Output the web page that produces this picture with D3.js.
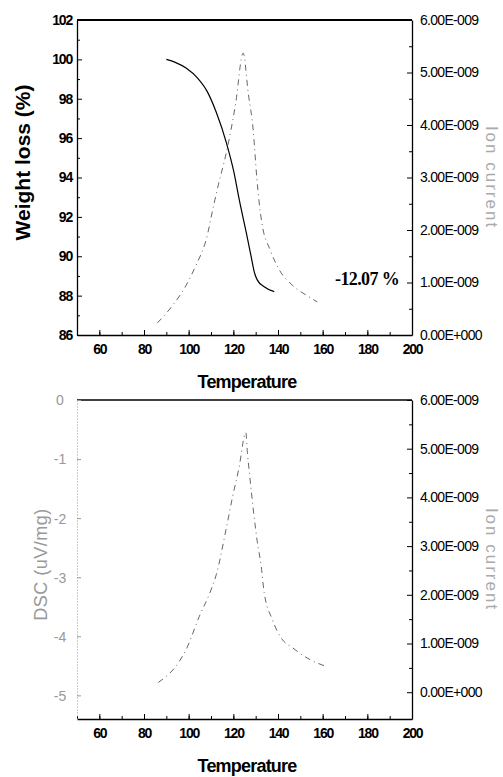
<!DOCTYPE html>
<html lang="en">
<head>
<meta charset="UTF-8">
<title>TG / DSC with ion current</title>
<style>
  body { margin: 0; background: #fff; }
  .tick text { font-family: "Liberation Sans", Arial, sans-serif; }
  .xAxis .tick text, .leftAxis .tick text { font-size: 14px; font-weight: bold; letter-spacing: -1.2px; fill: #000; }
  .rightAxis .tick text { font-size: 14px; letter-spacing: -0.7px; fill: #000; }
  .dscAxis .tick text { font-size: 14px; fill: #999; }
</style>
</head>
<body>
<div id="chart"></div>
<script src="https://d3js.org/d3.v7.min.js"></script>
<script>
// x ticks shared by both panels
const tempTicks = [60, 80, 100, 120, 140, 160, 180, 200];

// top panel: weight loss (TG)
const tgTemp   = [90, 94, 99, 104, 108.4, 112.4, 116.8, 120.4, 122.6, 125.8, 128, 129.5, 130.7, 133.8, 138.3];
const tgWeight = [100, 99.85, 99.55, 99.05, 98.35, 97.3, 95.8, 94.2, 92.9, 91.2, 89.97, 89.15, 88.8, 88.45, 88.2];
const weightTicks = [86, 88, 90, 92, 94, 96, 98, 100, 102];

// top panel: ion current
const ionTopTemp = [86, 92.2, 98.9, 103.3, 107.8, 111.4, 113.3, 117, 121, 124.4, 126.7, 128.9, 130.5, 131.5, 132.8, 136.5, 140.6, 146.4, 152.6, 157.6];
const ionTopVal  = [0.23, 0.53, 0.95, 1.33, 1.81, 2.51, 2.86, 3.5, 4.4, 5.37, 4.6, 3.9, 3.0, 2.55, 2.13, 1.62, 1.24, 0.95, 0.76, 0.63];

// bottom panel: ion current
const ionBotTemp = [86.4, 95.9, 98.9, 104.8, 110, 112.4, 116.9, 119.6, 122.5, 125.6, 126.3, 127.2, 130.7, 132.5, 133.8, 137.4, 141.8, 146.3, 153.9, 161.5];
const ionBotVal  = [0.2, 0.64, 0.88, 1.56, 2.1, 2.42, 3.38, 4.0, 4.6, 5.33, 4.92, 4.5, 3.1, 2.58, 2.05, 1.5, 1.09, 0.92, 0.68, 0.53];

// bottom panel: DSC axis ticks
const dscTicks = [0, -1, -2, -3, -4, -5];

// ion current ticks (units of 1E-009)
const ionTicks = [0, 1, 2, 3, 4, 5, 6];

const width = 503, height = 777;
const svg = d3.select('#chart').append('svg')
  .attr('width', width).attr('height', height);

const left = 77, right = 412;

const ionFormat = d => d === 0 ? '0.00E+000' : d.toFixed(2) + 'E-009';

const drawPanel = (cfg) => {
  const g = svg.append('g');
  const x = d3.scaleLinear().domain([50, 200]).range([left, right]);
  const yL = d3.scaleLinear().domain(cfg.leftDomain).range([cfg.bottom, cfg.top]);
  const yR = d3.scaleLinear().domain(cfg.rightDomain).range([cfg.bottom, cfg.top]);

  // top border
  g.append('line')
    .attr('x1', left).attr('x2', right)
    .attr('y1', cfg.top).attr('y2', cfg.top)
    .attr('stroke', '#000').attr('stroke-width', cfg.topWidth);

  // x axis, inward ticks
  const xMinor = d3.axisBottom(x).tickValues(d3.range(50, 201, 10)).tickSize(-3).tickFormat('');
  g.append('g').attr('transform', `translate(0,${cfg.bottom})`).call(xMinor)
    .call(s => s.select('.domain').remove());
  g.append('g').attr('class', 'xAxis')
    .attr('transform', `translate(0,${cfg.bottom})`)
    .call(d3.axisBottom(x).tickValues(tempTicks).tickSizeInner(-5).tickSizeOuter(0).tickPadding(9))
    .call(s => s.select('.domain').attr('stroke-width', 1.3));

  // left axis
  if (cfg.dsc) {
    const la = g.append('g').attr('class', 'dscAxis')
      .attr('transform', `translate(${left},0)`)
      .call(d3.axisLeft(yL).tickValues(dscTicks).tickSizeInner(-4).tickSizeOuter(0).tickPadding(14).tickFormat(d => d));
    la.select('.domain').attr('stroke', '#999').attr('stroke-dasharray', '1,2');
    la.selectAll('.tick line').attr('stroke', '#999');
    la.selectAll('.tick text')
      .attr('text-anchor', 'middle').attr('dy', '0.35em').attr('x', -17);
  } else {
    g.append('g').attr('transform', `translate(${left},0)`)
      .call(d3.axisLeft(yL).tickValues(d3.range(87, 102, 2)).tickSize(-3).tickFormat(''))
      .call(s => s.select('.domain').remove());
    g.append('g').attr('class', 'leftAxis')
      .attr('transform', `translate(${left},0)`)
      .call(d3.axisLeft(yL).tickValues(weightTicks).tickSizeInner(-5).tickSizeOuter(0).tickPadding(5))
      .call(s => s.select('.domain').attr('stroke-width', 1.3));
  }

  // right axis (ion current)
  g.append('g').attr('transform', `translate(${right},0)`)
    .call(d3.axisRight(yR).tickValues(d3.range(0.5, 6, 1)).tickSize(-3).tickFormat(''))
    .call(s => s.select('.domain').remove());
  g.append('g').attr('class', 'rightAxis')
    .attr('transform', `translate(${right},0)`)
    .call(d3.axisRight(yR).tickValues(ionTicks).tickSizeInner(-5).tickSizeOuter(0).tickPadding(8).tickFormat(ionFormat))
    .call(s => s.select('.domain').attr('stroke-width', 1.3));

  // ion current line, dash-dot
  const ionLine = d3.line().curve(d3.curveMonotoneX)
    .x((d, i) => x(cfg.ionTemp[i])).y(d => yR(d));
  g.append('path').datum(cfg.ionVal)
    .attr('d', ionLine)
    .attr('fill', 'none').attr('stroke', '#555').attr('stroke-width', 0.9)
    .attr('stroke-dasharray', '6,4,1,4');

  // TG line
  if (cfg.tg) {
    const tgLine = d3.line().curve(d3.curveMonotoneX)
      .x((d, i) => x(tgTemp[i])).y(d => yL(d));
    g.append('path').datum(tgWeight)
      .attr('d', tgLine)
      .attr('fill', 'none').attr('stroke', '#000').attr('stroke-width', 1.2);

    g.append('text')
      .attr('x', 335).attr('y', 285)
      .style('font-family', '"Liberation Serif", "Times New Roman", serif')
      .style('font-size', '18px').style('font-weight', 'bold').style('letter-spacing', '-0.6px')
      .text('-12.07 %');
  }

  // x title
  g.append('text')
    .attr('x', 247).attr('y', cfg.bottom + 53)
    .attr('text-anchor', 'middle')
    .style('font-family', '"Liberation Sans", Arial, sans-serif')
    .style('font-size', '18px').style('font-weight', 'bold').style('letter-spacing', '-0.8px')
    .text('Temperature');

  // left title
  const mid = (cfg.top + cfg.bottom) / 2;
  if (cfg.dsc) {
    g.append('text')
      .attr('transform', `translate(47,${mid + 5}) rotate(-90)`)
      .attr('text-anchor', 'middle')
      .style('font-family', '"Liberation Sans", Arial, sans-serif')
      .style('font-size', '18px').style('fill', '#999').style('letter-spacing', '0.5px')
      .text('DSC (uV/mg)');
  } else {
    g.append('text')
      .attr('transform', `translate(30,${mid - 15}) rotate(-90)`)
      .attr('text-anchor', 'middle')
      .style('font-family', '"Liberation Sans", Arial, sans-serif')
      .style('font-size', '21px').style('font-weight', 'bold')
      .text('Weight loss (%)');
  }

  // right title
  g.append('text')
    .attr('transform', `translate(486,${mid}) rotate(90)`)
    .attr('text-anchor', 'middle')
    .style('font-family', '"Liberation Sans", Arial, sans-serif')
    .style('font-size', '17px').style('fill', '#aaa').style('letter-spacing', '2px')
    .text('Ion current');
};

drawPanel({
  top: 20, bottom: 335,
  leftDomain: [86, 102], rightDomain: [0, 6],
  ionTemp: ionTopTemp, ionVal: ionTopVal,
  tg: true, dsc: false, topWidth: 2
});

drawPanel({
  top: 400, bottom: 719,
  leftDomain: [-5.4, 0], rightDomain: [-0.55, 6],
  ionTemp: ionBotTemp, ionVal: ionBotVal,
  tg: false, dsc: true, topWidth: 1.3
});
</script>
</body>
</html>
